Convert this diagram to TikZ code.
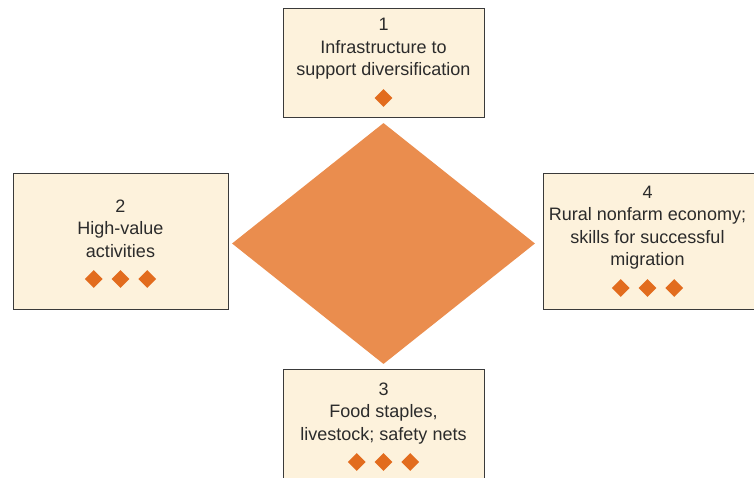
\documentclass[tikz,border=0pt]{standalone}
\usepackage{fontspec}
\setmainfont{Liberation Sans}
\usetikzlibrary{shapes.geometric}

\definecolor{boxfill}{HTML}{FDF2DC}
\definecolor{boxline}{HTML}{3A3A3A}
\definecolor{coreorange}{HTML}{EA8D4E}
\definecolor{gemorange}{HTML}{E26C1E}
\definecolor{txtgray}{HTML}{2B2B2B}

\tikzset{
  panel/.style={draw=boxline, fill=boxfill, line width=1pt},
  label/.style={align=center, text=txtgray, font=\fontsize{18}{22.5}\selectfont},
  gem/.style={diamond, fill=gemorange, minimum width=18pt, minimum height=18pt, inner sep=0pt},
}

\begin{document}
\begin{tikzpicture}[x=1pt,y=-1pt]
    % 画布
    \useasboundingbox (0,0) rectangle (754,478);

    % 中心大菱形
    \node[diamond, fill=coreorange, minimum width=303pt, minimum height=241pt, inner sep=0pt] (core) at (383.5,243.5) {};

    % 四个方框
    \draw[panel] (283,9) rectangle (484,118);   % 1
    \draw[panel] (13,174) rectangle (228,309);  % 2
    \draw[panel] (283,369) rectangle (484,490); % 3
    \draw[panel] (543,174) rectangle (770,309); % 4

    % 方框文字
    \node[label] (t1) at (383.5,49) {1\\Infrastructure to\\support diversification};
    \node[label] (t2) at (120.5,228.5) {2\\High-value\\activities};
    \node[label] (t3) at (383.5,413.5) {3\\Food staples,\\livestock; safety nets};
    \node[label] (t4) at (647.5,227.5) {4\\Rural nonfarm economy;\\skills for successful\\migration};

    % 小菱形
    \node[gem] (g1) at (383.5,98) {};
    \foreach \i in {-1,0,1} {
        \node[gem] (g2\i) at (120.5+26.7*\i,279) {};
        \node[gem] (g3\i) at (383.5+26.7*\i,462) {};
        \node[gem] (g4\i) at (647.5+26.7*\i,288) {};
    }
\end{tikzpicture}
\end{document}
